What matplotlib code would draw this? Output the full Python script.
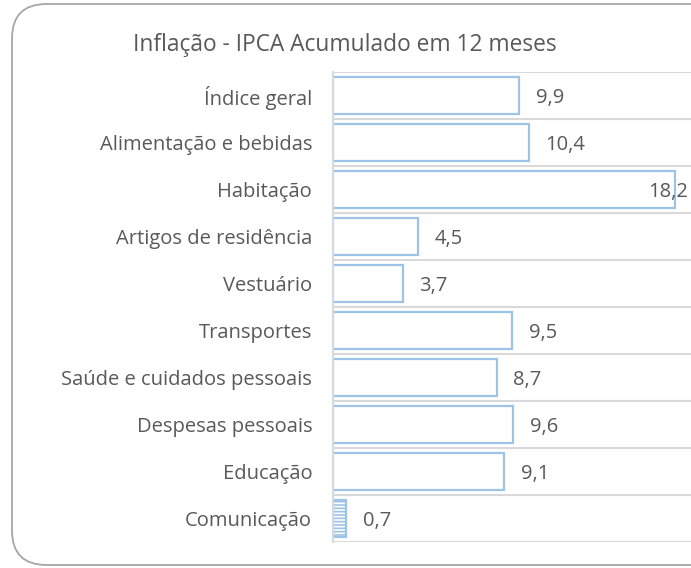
import numpy as np
import matplotlib.pyplot as plt
from matplotlib.patches import FancyBboxPatch
from matplotlib.transforms import blended_transform_factory

categorias = ['Índice geral', 'Alimentação e bebidas', 'Habitação', 'Artigos de residência',
              'Vestuário', 'Transportes', 'Saúde e cuidados pessoais', 'Despesas pessoais',
              'Educação', 'Comunicação']
valores = [9.9, 10.4, 18.2, 4.5, 3.7, 9.5, 8.7, 9.6, 9.1, 0.7]
rotulos = ['9,9', '10,4', '18,2', '4,5', '3,7', '9,5', '8,7', '9,6', '9,1', '0,7']

plt.rcParams['font.family'] = ['Open Sans', 'DejaVu Sans']
plt.rcParams['hatch.color'] = '#9DC3E6'
plt.rcParams['hatch.linewidth'] = 1.2
cinza = '#595959'
azul = '#9DC3E6'

W, H = 691, 568
fig = plt.figure(figsize=(W / 100, H / 100), dpi=100)

# moldura arredondada (corta na direita como no original)
caixa = FancyBboxPatch((12 / W, 3 / H), 720 / W, 561 / H,
                       boxstyle='round,pad=0,rounding_size=0.05',
                       transform=fig.transFigure, facecolor='white',
                       edgecolor='#A6A6A6', linewidth=1.3, mutation_aspect=W / H,
                       zorder=-5)
fig.patches.append(caixa)

# eixo: esquerda 333px, topo 72px, base 542px
ax = fig.add_axes([333 / W, 1 - 542 / H, 376 / W, 470 / H])
ax.set_facecolor('none')
n = len(categorias)
y = np.arange(n)
barras = ax.barh(y, valores, height=0.77, color='white', edgecolor=azul, linewidth=1.6)
barras[-1].set_hatch('-----')

ax.set_xlim(0, 20)
ax.set_ylim(n - 0.5, -0.5)
ax.set_yticks(y)
ax.set_yticklabels(categorias, fontsize=14.5, color=cinza)
ax.tick_params(axis='y', length=0, pad=15)
ax.set_xticks([])
for s in ['top', 'right', 'bottom']:
    ax.spines[s].set_visible(False)
ax.spines['left'].set_color('#D9D9D9')
ax.spines['left'].set_linewidth(1.5)

for b in np.arange(n + 1) - 0.5:
    ax.axhline(b, color='#D9D9D9', linewidth=1.5, zorder=0)

borda = blended_transform_factory(fig.transFigure, ax.transData)
for i, (v, r) in enumerate(zip(valores, rotulos)):
    if v > 15:
        # no original o rótulo encosta na borda direita
        ax.text(688 / W, i, r, va='center_baseline', ha='right', fontsize=14.5,
                color=cinza, transform=borda)
    else:
        ax.text(v + 0.9, i, r, va='center_baseline', ha='left', fontsize=14.5, color=cinza)

fig.text(345 / W, 1 - 45 / H, 'Inflação - IPCA Acumulado em 12 meses',
         ha='center', va='center', fontsize=16.4, color=cinza)

fig.savefig('out.png', dpi=100)
